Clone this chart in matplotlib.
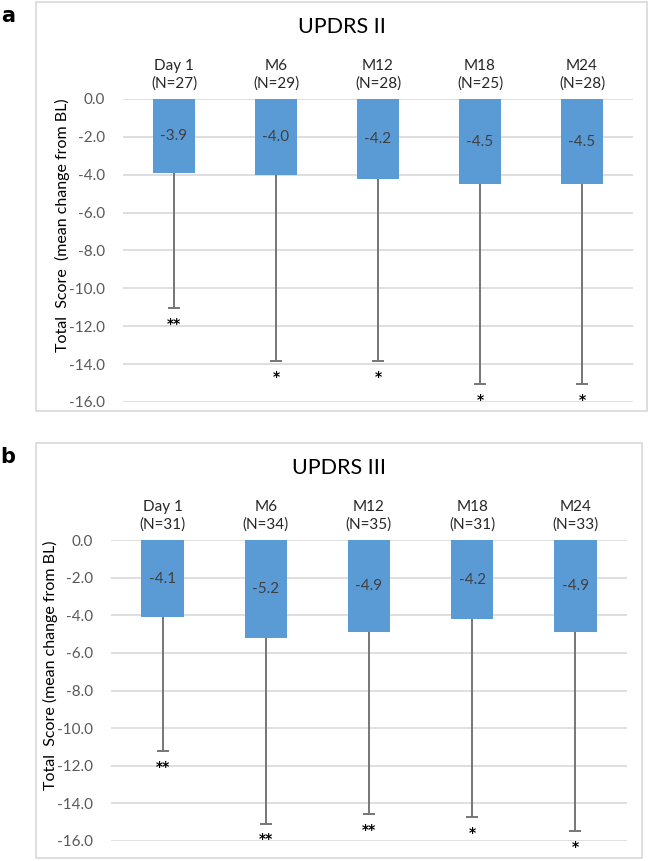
import matplotlib.pyplot as plt
from matplotlib.patches import Rectangle
import numpy as np

plt.rcParams['font.family'] = ['Lato', 'DejaVu Sans']
plt.rcParams['axes.unicode_minus'] = False

W, H = 649, 861

#%% Data

cats = ['Day 1', 'M6', 'M12', 'M18', 'M24']

n_ii = [27, 29, 28, 25, 28]
mean_ii = [-3.9, -4.0, -4.2, -4.5, -4.5]
sd_ii = [7.15, 9.82, 9.62, 10.55, 10.55]
stars_ii = ['**', '*', '*', '*', '*']

n_iii = [31, 34, 35, 31, 33]
mean_iii = [-4.1, -5.2, -4.9, -4.2, -4.9]
sd_iii = [7.11, 9.87, 9.68, 10.55, 10.56]
stars_iii = ['**', '**', '**', '*', '*']

yticks = np.arange(0, -17, -2)

bar_col = '#5B9BD5'
grid_col = '#D9D9D9'
txt_col = '#404040'
tick_col = '#595959'
err_col = '#767676'


def px_axes(fig, x0, y0, x1, y1):
    return fig.add_axes([x0 / W, 1 - y1 / H, (x1 - x0) / W, (y1 - y0) / H])


def panel(fig, box, plot, title, ylabel, ylab_x, letter, n, mean, sd, stars):
    bx0, by0, bx1, by1 = box
    fig.patches.append(Rectangle(
        (bx0 / W, 1 - by1 / H), (bx1 - bx0) / W, (by1 - by0) / H,
        transform=fig.transFigure, fill=False, ec=grid_col, lw=1.2))
    fig.text(8 / W, 1 - (by0 + 14) / H, letter, fontsize=15,
             fontweight='bold', family='DejaVu Sans', ha='center', va='center')
    fig.text((bx0 + bx1) / 2 / W, 1 - (by0 + 25) / H, title, fontsize=15.5,
             color='#000000', ha='center', va='center')

    ax = px_axes(fig, *plot)
    x = np.arange(len(cats))
    mean = np.array(mean)
    sd = np.array(sd)
    ax.bar(x, mean, width=0.41, color=bar_col, zorder=3)
    # lower error bar only, cap at the far end
    ax.vlines(x, mean - sd, mean, color=err_col, lw=1.4, zorder=2)
    ax.plot(x, mean - sd, ls='none', marker='_', ms=8, mew=1.4,
            color=err_col, zorder=2)
    for xi, m, s, st in zip(x, mean, sd, stars):
        ax.text(xi, m / 2, '{:.1f}'.format(m), ha='center', va='center',
                fontsize=11, color=txt_col, zorder=4)
        ax.text(xi, m - s - 0.85, st, ha='center', va='center',
                fontsize=10, fontweight='bold', family='DejaVu Sans',
                color='black', clip_on=False)

    ax.set_ylim(-16, 0)
    ax.set_xlim(-0.5, len(cats) - 0.5)
    ax.set_yticks(yticks)
    ax.set_yticklabels(['{:.1f}'.format(v) for v in yticks])
    ax.yaxis.grid(True, color=grid_col, lw=1.2, zorder=0)
    ax.set_axisbelow(True)
    ax.tick_params(axis='y', length=0, pad=13, labelsize=11,
                   labelcolor=tick_col)
    ax.xaxis.tick_top()
    ax.set_xticks(x)
    ax.set_xticklabels(['{}\n(N={})'.format(c, k) for c, k in zip(cats, n)],
                       linespacing=1.3)
    ax.tick_params(axis='x', length=0, pad=6, labelsize=11,
                   labelcolor='#262626')
    for sp in ax.spines.values():
        sp.set_visible(False)

    fig.text(ylab_x / W, 1 - ((plot[1] + plot[3]) / 2 - 25) / H, ylabel,
             rotation=90, ha='center', va='center', fontsize=11.5,
             color='#000000')
    return ax


#%% Draw

fig = plt.figure(figsize=(W / 100, H / 100), dpi=100)

panel(fig, (36, 2, 647, 411), (123, 99, 633, 402), 'UPDRS II',
      'Total  Score  (mean change from BL)', 62, 'a',
      n_ii, mean_ii, sd_ii, stars_ii)
panel(fig, (36, 443, 642, 858), (111, 540, 627, 841), 'UPDRS III',
      'Total  Score (mean change from BL)', 50, 'b',
      n_iii, mean_iii, sd_iii, stars_iii)

fig.savefig('out.png', dpi=100)
